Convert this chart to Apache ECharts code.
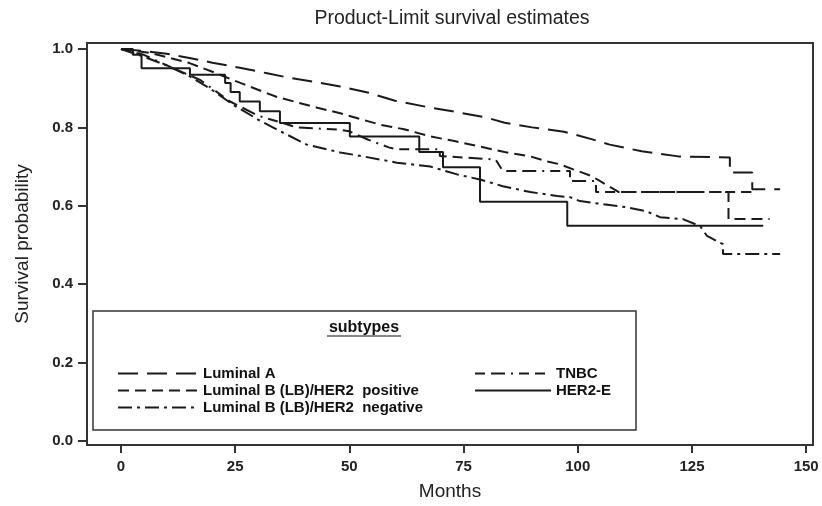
<!DOCTYPE html>
<html><head><meta charset="utf-8">
<script src="https://cdn.jsdelivr.net/npm/echarts@6/dist/echarts.min.js"></script>
<style>html,body{margin:0;padding:0;background:#fff}#c{width:822px;height:506px}</style>
</head><body><div id="c"></div>
<script>
// ---- data ----
const xTicks = [0, 25, 50, 75, 100, 125, 150];
const yTicks = [0, 0.2, 0.4, 0.6, 0.8, 1.0];
const seriesNames = ['Luminal A', 'Luminal B (LB)/HER2  positive', 'Luminal B (LB)/HER2  negative', 'TNBC', 'HER2-E'];

const luminalA = [[0,1],[5,0.995],[10,0.988],[15,0.977],[20,0.965],[26,0.952],[32,0.938],[37,0.926],[43,0.915],[48,0.904],[54,0.889],[60,0.868],[67,0.852],[74,0.838],[80,0.825],[84,0.812],[90,0.800],[97,0.789],[103,0.770],[107,0.756],[114,0.739],[122,0.726],[133.3,0.723],[133.3,0.685],[138.2,0.685],[138.2,0.642],[144.3,0.642]];
const lbPositive = [[0,1],[6.4,0.99],[15,0.964],[20,0.942],[26,0.914],[34,0.878],[43,0.850],[48,0.836],[56.7,0.807],[62,0.795],[67.7,0.777],[73,0.765],[78.6,0.751],[84,0.737],[89.6,0.726],[93,0.714],[96,0.706],[99,0.693],[103,0.676],[105,0.662],[109,0.635],[133,0.635],[133,0.566],[142,0.566]];
const lbNegative = [[0,1],[5,0.98],[10,0.958],[15.1,0.93],[20,0.895],[24.5,0.858],[30,0.82],[34.2,0.794],[40.7,0.756],[45.8,0.742],[48,0.736],[53,0.726],[60.4,0.710],[67.7,0.700],[73.6,0.680],[78.6,0.667],[83.6,0.650],[89.6,0.635],[95.5,0.625],[98.3,0.622],[100.5,0.612],[105.5,0.604],[110.8,0.596],[115,0.586],[118,0.571],[123,0.566],[126.8,0.548],[128.3,0.523],[131.8,0.502],[131.8,0.477],[144.3,0.477]];
const tnbc = [[0,1],[5,0.985],[11.4,0.951],[17.3,0.921],[23.9,0.866],[30,0.83],[38.5,0.80],[48,0.794],[50,0.79],[54,0.769],[58.6,0.749],[60.4,0.744],[69.8,0.744],[69.8,0.727],[82,0.718],[83.6,0.689],[98.3,0.689],[98.3,0.663],[104,0.663],[104,0.635],[138,0.635]];
const her2e = [[0,1],[2.6,1],[2.6,0.985],[4.5,0.985],[4.5,0.951],[15.1,0.951],[15.1,0.934],[22.8,0.934],[22.8,0.913],[24,0.913],[24,0.89],[26,0.89],[26,0.866],[30.4,0.866],[30.4,0.841],[34.8,0.841],[34.8,0.811],[50.1,0.811],[50.1,0.777],[65.3,0.777],[65.3,0.737],[70.5,0.737],[70.5,0.698],[78.6,0.698],[78.6,0.61],[97.7,0.61],[97.7,0.549],[140.6,0.549]];

const seriesData = [luminalA, lbPositive, lbNegative, tnbc, her2e];
const dashTypes = [[20, 9], [11, 6], [14, 5, 3, 5], [10, 6, 14, 6, 2, 6, 10, 6], 'solid'];

const FONT = '"Liberation Sans", Arial, sans-serif';
const INK = '#1a1a1a';

const chart = echarts.init(document.getElementById('c'), null, {renderer: 'canvas'});
const legendText = {fontFamily: FONT, fontSize: 15, fontWeight: 'bold', color: '#111'};

const option = {
  animation: false,
  backgroundColor: '#fff',
  title: {
    text: 'Product-Limit survival estimates',
    left: 447, top: 4, textAlign: 'center',
    textStyle: {fontFamily: FONT, fontSize: 19.5, fontWeight: 'normal', color: '#222'}
  },
  grid: {left: 87, right: 9, top: 43, bottom: 59, show: true, borderColor: '#333', borderWidth: 2, backgroundColor: 'transparent'},
  xAxis: {
    type: 'value', min: -7.44, max: 151.5,
    name: 'Months', nameLocation: 'middle', nameGap: 37,
    nameTextStyle: {fontFamily: FONT, fontSize: 19, color: '#222'},
    axisLine: {show: true, onZero: false, lineStyle: {color: '#333', width: 2}},
    axisTick: {show: true, customValues: xTicks, length: 8, lineStyle: {color: '#333', width: 2}},
    axisLabel: {customValues: xTicks, margin: 14, fontFamily: FONT, fontSize: 15, fontWeight: 'bold', color: '#222'},
    splitLine: {show: false}
  },
  yAxis: {
    type: 'value', min: -0.0102, max: 1.0152,
    name: 'Survival probability', nameLocation: 'middle', nameGap: 55,
    nameTextStyle: {fontFamily: FONT, fontSize: 19, color: '#222'},
    axisLine: {show: true, onZero: false, lineStyle: {color: '#333', width: 2}},
    axisTick: {show: true, customValues: yTicks, length: 9, lineStyle: {color: '#333', width: 2}},
    axisLabel: {customValues: yTicks, margin: 14, fontFamily: FONT, fontSize: 15, fontWeight: 'bold', color: '#222',
      formatter: v => Number(v).toFixed(1)},
    splitLine: {show: false}
  },
  legend: [
    {data: seriesNames.slice(0, 3), orient: 'vertical', left: 112, top: 361, itemWidth: 80, itemHeight: 14, itemGap: 2,
     selectedMode: false, textStyle: legendText, itemStyle: {opacity: 0}},
    {data: seriesNames.slice(3), orient: 'vertical', left: 469, top: 361, itemWidth: 76, itemHeight: 14, itemGap: 2,
     selectedMode: false, textStyle: legendText, itemStyle: {opacity: 0}}
  ],
  graphic: [
    {type: 'rect', z: 1, shape: {x: 93, y: 311, width: 543, height: 119}, style: {fill: '#fff', stroke: '#333', lineWidth: 1.5}},
    {type: 'text', z: 5, x: 364, y: 328, style: {text: 'subtypes', font: 'bold 16px "Liberation Sans", Arial, sans-serif', fill: '#111', textAlign: 'center', textVerticalAlign: 'middle'}},
    {type: 'line', z: 5, shape: {x1: 327, y1: 336, x2: 401, y2: 336}, style: {stroke: '#111', lineWidth: 1.2}}
  ],
  series: seriesNames.map((n, i) => ({
    name: n, type: 'line', data: seriesData[i], symbol: 'none', showSymbol: false,
    lineStyle: {color: INK, width: 2, type: dashTypes[i]},
    itemStyle: {color: INK},
    emphasis: {disabled: true}, silent: true
  }))
};
chart.setOption(option);
</script>
</body></html>
